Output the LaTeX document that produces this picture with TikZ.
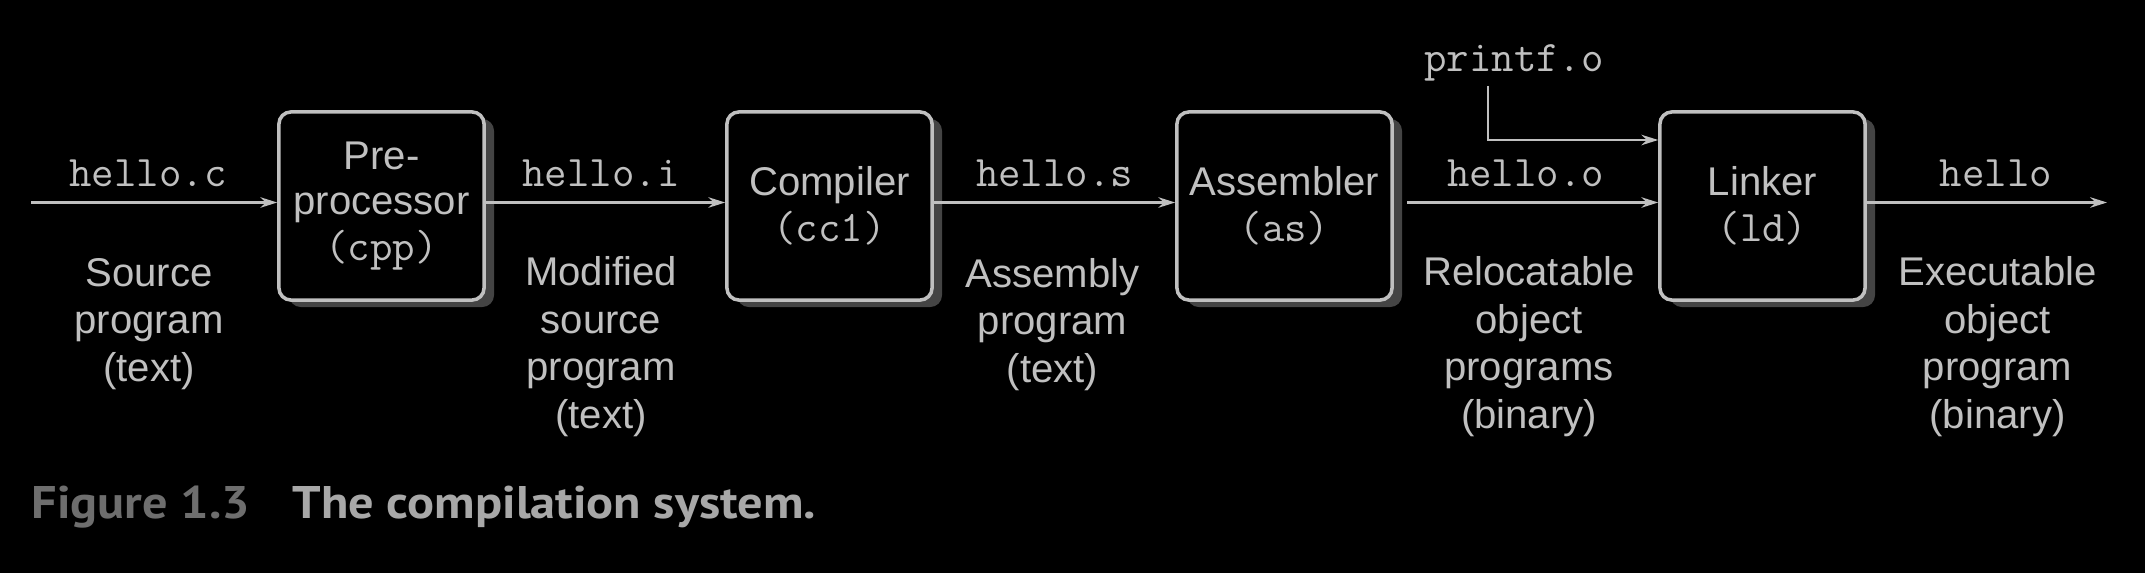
\documentclass[tikz,border=0pt]{standalone}
\usepackage{fontspec}
\setmainfont{Liberation Sans}
\newfontfamily\capf[FakeStretch=1.1]{PT Sans}
\usetikzlibrary{arrows.meta,shadows}
\definecolor{fg}{HTML}{C0C0C0}
\definecolor{shade}{HTML}{444444}
\definecolor{figc}{HTML}{6E6E6E}
\definecolor{capc}{HTML}{A8A8A8}
\newcommand\mono[1]{{\ttfamily\fontsize{12.4}{13}\selectfont #1}}
\begin{document}
\begin{tikzpicture}[x=0.01cm,y=-0.01cm,
  proc/.style={draw=fg, line width=1pt, rounded corners=0.12cm, fill=black,
    minimum width=2.05cm, minimum height=1.88cm, inner sep=0pt, align=center,
    text=fg, font=\fontsize{11.4}{13}\selectfont,
    drop shadow={shadow xshift=0.1cm, shadow yshift=-0.07cm, fill=shade, opacity=1}},
  arr/.style={draw=fg, line width=0.6pt, -{Stealth[length=4.8pt,width=3pt,inset=1.6pt]}},
  file/.style={anchor=base, inner sep=0pt, text=fg, font=\ttfamily\fontsize{12.4}{13}\selectfont},
  desc/.style={anchor=base, inner sep=0pt, text=fg, align=center, font=\fontsize{11.4}{13.5}\selectfont}]
\fill[black] (0,0) rectangle (2145,573);
\useasboundingbox (0,0) rectangle (2145,573);

\node[proc] (pre) at (381.5,206) {Pre-\\processor\\\mono{(cpp)}};
\node[proc] (cc) at (829.5,206) {Compiler\\\mono{(cc1)}};
\node[proc, minimum width=2.15cm] (as) at (1284.5,206) {Assembler\\\mono{(as)}};
\node[proc] (ld) at (1762.5,206) {Linker\\\mono{(ld)}};

\coordinate (in) at (31,202.5);
\coordinate (out) at (2107,202.5);
\coordinate (ostart) at (1407,202.5);
\coordinate (pk) at (1488,140);

\draw[arr] (in) -- (in -| pre.west);
\draw[arr] (in -| pre.east) -- (in -| cc.west);
\draw[arr] (in -| cc.east) -- (in -| as.west);
\draw[arr] (ostart) -- (ostart -| ld.west);
\draw[arr] (in -| ld.east) -- (out);

\node[file] (pf) at (1514,72) {printf.o};
\draw[arr] (pk |- 0,86) -- (pk) -- (pk -| ld.west);

\node[file] (fc) at (148,187) {hello.c};
\node[file] (fi) at (601,187) {hello.i};
\node[file] (fs) at (1054.6,187) {hello.s};
\node[file] (fo) at (1525.6,187) {hello.o};
\node[file] (fh) at (1996,187) {hello};

% base anchor of a multi-line node is the baseline of its last line
\node[desc] (dc) at (149,381) {Source\\program\\(text)};
\node[desc] (di) at (601,428) {Modified\\source\\program\\(text)};
\node[desc] (ds) at (1052.6,382) {Assembly\\program\\(text)};
\node[desc] (do) at (1529,428) {Relocatable\\object\\programs\\(binary)};
\node[desc] (dh) at (1997.5,428) {Executable\\object\\program\\(binary)};

\node[anchor=base west, inner sep=0pt, text=figc, font=\capf\bfseries\fontsize{13}{15}\selectfont] (fig) at (31,518) {Figure 1.3};
\node[anchor=base west, inner sep=0pt, text=capc, font=\capf\bfseries\fontsize{13}{15}\selectfont] (cap) at (292,518) {The compilation system.};
\end{tikzpicture}
\end{document}
